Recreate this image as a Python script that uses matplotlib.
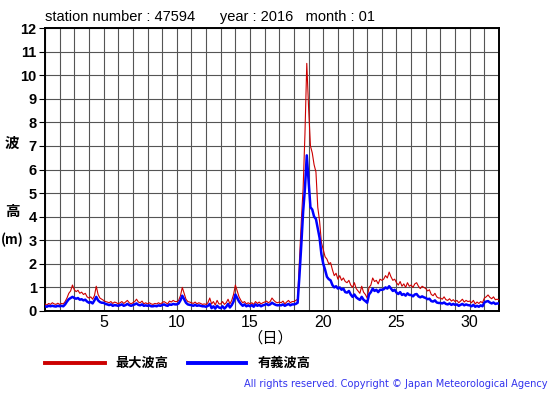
import numpy as np
import matplotlib
matplotlib.use("Agg")
import matplotlib.pyplot as plt

# 3-hourly readings, days 1..31 (8 per day) plus day 32 00h
max_wave = [
    0.30,0.25,0.32,0.28,0.35,0.30,0.28,0.33,   # 1
    0.28,0.32,0.30,0.40,0.55,0.75,0.85,1.10,   # 2
    0.90,0.82,0.88,0.75,0.80,0.70,0.75,0.60,   # 3
    0.55,0.60,0.50,0.65,1.05,0.70,0.55,0.50,   # 4
    0.45,0.40,0.38,0.35,0.40,0.32,0.38,0.35,   # 5
    0.30,0.35,0.40,0.32,0.38,0.45,0.35,0.30,   # 6
    0.35,0.40,0.50,0.38,0.35,0.42,0.30,0.35,   # 7
    0.30,0.35,0.30,0.28,0.32,0.30,0.35,0.30,   # 8
    0.35,0.40,0.35,0.30,0.42,0.38,0.45,0.40,   # 9
    0.40,0.45,0.65,1.00,0.75,0.50,0.40,0.38,   # 10
    0.35,0.32,0.38,0.30,0.35,0.32,0.28,0.30,   # 11
    0.28,0.35,0.55,0.30,0.40,0.25,0.45,0.30,   # 12
    0.30,0.40,0.28,0.35,0.50,0.30,0.45,0.70,   # 13
    1.10,0.85,0.60,0.45,0.35,0.40,0.30,0.35,   # 14
    0.30,0.35,0.28,0.40,0.32,0.38,0.30,0.35,   # 15
    0.38,0.42,0.35,0.40,0.55,0.45,0.38,0.35,   # 16
    0.38,0.35,0.42,0.30,0.38,0.45,0.35,0.40,   # 17
    0.40,0.45,0.50,2.20,3.80,5.20,7.50,10.50,  # 18
    8.60,7.00,6.70,6.20,5.90,4.40,3.80,2.90,   # 19
    2.60,2.30,2.20,2.00,2.05,1.75,1.50,1.60,   # 20
    1.35,1.50,1.30,1.40,1.25,1.20,1.30,1.10,   # 21
    1.00,1.20,0.95,0.85,0.75,1.05,0.80,0.70,   # 22
    0.55,1.00,1.10,1.40,1.25,1.30,1.15,1.35,   # 23
    1.30,1.35,1.50,1.40,1.65,1.45,1.30,1.35,   # 24
    1.20,1.10,1.25,1.05,1.15,1.00,1.20,1.05,   # 25
    1.10,1.00,1.15,1.20,1.05,0.95,1.05,1.00,   # 26
    0.95,0.85,0.90,0.70,0.65,0.75,0.60,0.55,   # 27
    0.55,0.50,0.60,0.48,0.45,0.52,0.42,0.48,   # 28
    0.40,0.45,0.35,0.42,0.50,0.38,0.45,0.40,   # 29
    0.42,0.35,0.45,0.30,0.38,0.32,0.40,0.35,   # 30
    0.55,0.60,0.68,0.58,0.52,0.60,0.48,0.50,   # 31
    0.47,
]
sig_wave = [
    0.20,0.18,0.22,0.20,0.22,0.20,0.19,0.22,   # 1
    0.20,0.22,0.20,0.28,0.40,0.50,0.55,0.60,   # 2
    0.55,0.52,0.55,0.48,0.50,0.45,0.48,0.40,   # 3
    0.35,0.38,0.32,0.45,0.60,0.45,0.38,0.35,   # 4
    0.35,0.30,0.28,0.25,0.28,0.22,0.25,0.24,   # 5
    0.22,0.25,0.28,0.22,0.25,0.30,0.25,0.22,   # 6
    0.25,0.28,0.32,0.26,0.24,0.28,0.22,0.24,   # 7
    0.22,0.24,0.20,0.20,0.22,0.20,0.24,0.22,   # 8
    0.25,0.28,0.24,0.22,0.28,0.26,0.30,0.28,   # 9
    0.28,0.32,0.45,0.65,0.50,0.35,0.28,0.26,   # 10
    0.25,0.22,0.26,0.22,0.24,0.22,0.20,0.20,   # 11
    0.18,0.22,0.30,0.12,0.20,0.10,0.22,0.15,   # 12
    0.12,0.20,0.10,0.18,0.30,0.15,0.25,0.40,   # 13
    0.70,0.55,0.40,0.30,0.22,0.28,0.20,0.24,   # 14
    0.20,0.25,0.18,0.28,0.22,0.26,0.20,0.24,   # 15
    0.26,0.30,0.25,0.28,0.35,0.30,0.26,0.24,   # 16
    0.25,0.24,0.28,0.22,0.26,0.30,0.24,0.28,   # 17
    0.28,0.30,0.35,1.50,2.80,4.20,5.20,6.60,   # 18
    5.50,4.40,4.30,4.00,3.90,3.50,3.10,2.40,   # 19
    2.00,1.75,1.45,1.35,1.30,1.10,1.00,1.05,   # 20
    0.95,1.00,0.90,0.95,0.80,0.78,0.85,0.70,   # 21
    0.60,0.70,0.58,0.52,0.47,0.60,0.48,0.42,   # 22
    0.35,0.70,0.80,0.95,0.85,0.90,0.80,0.90,   # 23
    0.90,0.92,1.00,0.95,1.05,0.95,0.85,0.90,   # 24
    0.78,0.72,0.80,0.68,0.72,0.65,0.75,0.68,   # 25
    0.68,0.62,0.70,0.72,0.62,0.58,0.62,0.58,   # 26
    0.55,0.50,0.52,0.42,0.40,0.45,0.36,0.34,   # 27
    0.34,0.32,0.36,0.30,0.28,0.32,0.26,0.30,   # 28
    0.26,0.28,0.22,0.26,0.30,0.24,0.28,0.25,   # 29
    0.24,0.20,0.26,0.18,0.22,0.18,0.24,0.20,   # 30
    0.36,0.40,0.42,0.36,0.32,0.36,0.30,0.32,   # 31
    0.32,
]
x_tick_labels = ["5", "10", "15", "20", "25", "30"]
y_tick_labels = [str(i) for i in range(13)]
legend_labels = ["最大波高", "有義波高"]

days = 1 + np.arange(len(max_wave)) / 8.0

CJK = ["Noto Sans CJK JP", "DejaVu Sans"]

fig = plt.figure(figsize=(5.55, 3.95), dpi=100)
ax = fig.add_axes([45/555, 1-311/395, 454/555, 283/395])

ax.plot(days, max_wave, color="#cc0000", lw=0.8, zorder=3)
ax.plot(days, sig_wave, color="#0000ff", lw=1.8, zorder=4)

ax.set_xlim(1, 32)
ax.set_ylim(0, 12)
ax.set_xticks(range(1, 33))
ax.set_xticklabels(["" if str(d) not in x_tick_labels else str(d) for d in range(1, 33)],
                   fontsize=11.5, family="Liberation Sans")
ax.set_yticks(range(13))
ax.set_yticklabels(y_tick_labels, fontsize=10.5, fontweight="bold", family="Liberation Sans")
ax.tick_params(axis="x", length=0, pad=3)
ax.tick_params(axis="y", length=4, pad=2, width=0.8)
ax.grid(True, color="#555555", lw=0.8, zorder=1)
for s in ax.spines.values():
    s.set_linewidth(1.4)
    s.set_color("black")

fig.text(45/555, 1-17/395, "station number : 47594      year : 2016   month : 01",
         fontsize=10.5, family="Liberation Sans", va="center", ha="left")

fig.text(270/555, 1-338/395, "（日）", fontsize=11, family=CJK, ha="center", va="center")
fig.text(12/555, 1-143/395, "波", fontsize=10.5, family=CJK, fontweight="bold", ha="center", va="center")
fig.text(12/555, 1-211/395, "高", fontsize=10.5, family=CJK, fontweight="bold", ha="center", va="center")
fig.text(1/555, 1-240/395, "(m)", fontsize=9.5, family=CJK, fontweight="bold", ha="left", va="center")

# legend
fig.add_artist(plt.Line2D([45/555, 105/555], [1-363/395, 1-363/395], color="#cc0000", lw=2.8,
                          transform=fig.transFigure))
fig.text(115/555, 1-363/395, legend_labels[0], fontsize=9.5, family=CJK, fontweight="bold",
         ha="left", va="center")
fig.add_artist(plt.Line2D([188/555, 246/555], [1-363/395, 1-363/395], color="#0000ff", lw=2.8,
                          transform=fig.transFigure))
fig.text(258/555, 1-363/395, legend_labels[1], fontsize=9.5, family=CJK, fontweight="bold",
         ha="left", va="center")

fig.text(548/555, 1-384/395, "All rights reserved. Copyright © Japan Meteorological Agency",
         fontsize=7.1, color="#3333ee", ha="right", va="center", family="DejaVu Sans")

fig.savefig("out.png", dpi=100)
